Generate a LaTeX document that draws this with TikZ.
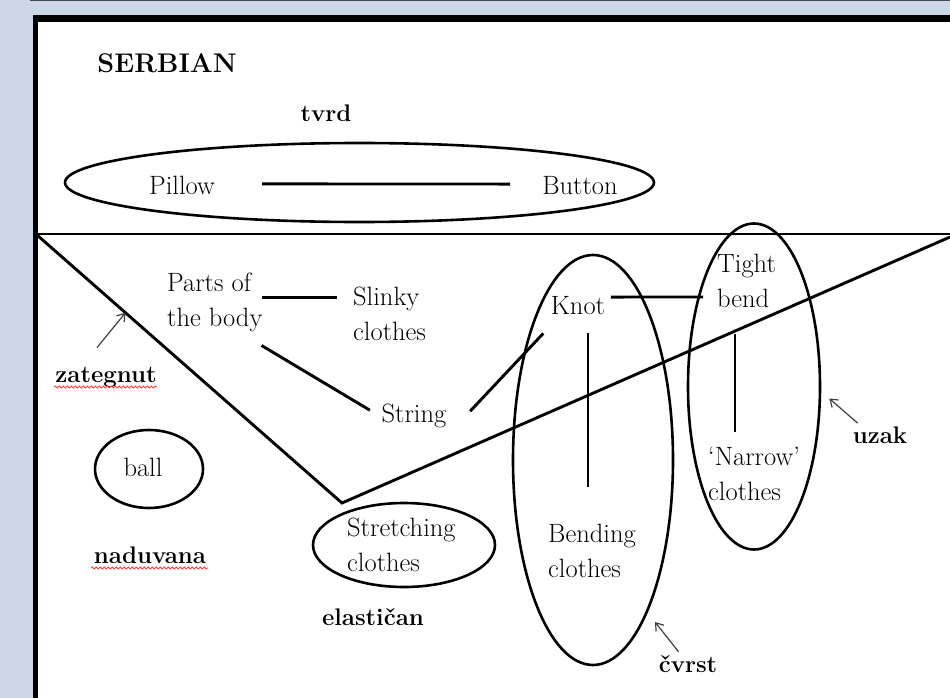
\documentclass[tikz,border=0pt]{standalone}
\usetikzlibrary{shapes.geometric,arrows.meta,calc,decorations.pathmorphing}
\definecolor{pagebg}{RGB}{204,216,231}
\definecolor{edgegray}{RGB}{70,74,80}
\begin{document}
\begin{tikzpicture}[x=1pt,y=-1pt,
  lbl/.style={font=\fontsize{26.5}{35.5}\selectfont, inner sep=0pt},
  word/.style={lbl, anchor=base},
  multi/.style={lbl, align=left, anchor=north west},
  kw/.style={font=\bfseries\fontsize{24}{28}\selectfont, inner sep=0pt, anchor=base},
  ring/.style={ellipse, draw, line width=2.6pt, inner sep=0pt},
  link/.style={line width=2.9pt},
  pointer/.style={draw=black!75, line width=1.2pt, -{Straight Barb[length=7pt,width=10pt]}},
  squiggle/.style={draw=red!75, line width=0.8pt, decorate,
    decoration={snake, amplitude=1pt, segment length=4pt}}]
  % page and frame
  \useasboundingbox (0,0) rectangle (950,698);
  \fill[pagebg] (0,0) rectangle (950,698);
  \fill[edgegray] (30,0) rectangle (950,1.5);
  \fill[white] (35,18) rectangle (950,698);
  \draw[line width=7pt] (35,18.5) -- (950,18.5);
  \draw[line width=4.5pt] (35.25,15) -- (35.25,698);

  % upper band
  \node[font=\bfseries\fontsize{27}{30}\selectfont, inner sep=0pt, anchor=base] (title) at (167,73) {SERBIAN};
  \node[kw] (tvrd) at (326,122) {tvrd};
  \node[ring, minimum width=589pt, minimum height=79pt] (hardring) at (359.5,182.5) {};
  \node[word] (pillow) at (182,194) {Pillow};
  \node[word] (button) at (580,194) {Button};
  \draw[link] ($(pillow.east)+(47,-1)$) -- ($(button.west)+(-32,-1)$);

  % dividing line and the V
  \draw[link] (37,234) -- (950,234);
  \coordinate (vL) at (37,235);
  \coordinate (vB) at (342,503);
  \coordinate (vR) at (950,237);
  \draw[link, line join=miter] (vL) -- (vB) -- (vR);

  % left side
  \node[kw] (zategnut) at (106,382) {zategnut};
  \draw[squiggle] (54,387) -- (157,387);
  \draw[pointer] ($(zategnut.north)+(-9,-19)$) -- ($(vL)!0.29!(vB)$);
  \node[ring, minimum width=108pt, minimum height=78pt] (ballring) at (149,469) {};
  \node[word] (ball) at (143,476) {ball};
  \node[kw] (naduvana) at (150,563) {naduvana};
  \draw[squiggle] (91,568) -- (208,568);

  % chain of words
  \node[multi] (parts) at (167,272.6) {Parts of\\the body};
  \node[multi] (slinky) at (353,286.6) {Slinky\\clothes};
  \node[word] (string) at (414,422) {String};
  \node[word] (knot) at (578,314) {Knot};
  \node[multi] (tight) at (717,253.6) {Tight\\bend};
  \node[multi] (narrow) at (708,446.6) {`Narrow'\\clothes};
  \node[multi] (bending) at (548,523.6) {Bending\\clothes};
  \node[multi] (stretching) at (347,517.6) {Stretching\\clothes};

  \draw[link] ($(parts.north east)+(-1,25)$) -- ($(slinky.north west)+(-16,11)$);
  \draw[link] ($(parts.south east)+(-1,13)$) -- ($(string.west)+(-11.6,-5.2)$);
  \draw[link] ($(string.east)+(23.6,-4.2)$) -- ($(knot.south west)+(-7.5,19)$);
  \draw[link] ($(knot.east)+(5.5,-8)$) -- ($(tight.north west)+(-14,43.4)$);
  \draw[link] ($(knot.south)+(10,19)$) -- ($(bending.north west)+(40,-36.6)$);
  \draw[link] ($(tight.south west)+(18,25.5)$) -- ($(narrow.north west)+(27,-14.6)$);

  % grouping rings
  \node[ring, minimum width=182pt, minimum height=84pt] (stretchring) at (404,545) {};
  \node[ring, minimum width=160pt, minimum height=410pt] (knotring) at (593,460) {};
  \node[ring, minimum width=132pt, minimum height=326pt] (tightring) at (754,386.5) {};

  % labels with pointers
  \node[kw] (elastican) at (373,625) {elastičan};
  \node[kw] (cvrst) at (688,672) {čvrst};
  \draw[pointer] ($(cvrst.north west)+(20,-3)$) -- ($(knotring.center)+(62,162)$);
  \node[kw] (uzak) at (880,443) {uzak};
  \draw[pointer] ($(uzak.north west)+(5,-3)$) -- ($(tightring.east)+(8,12)$);
\end{tikzpicture}
\end{document}
